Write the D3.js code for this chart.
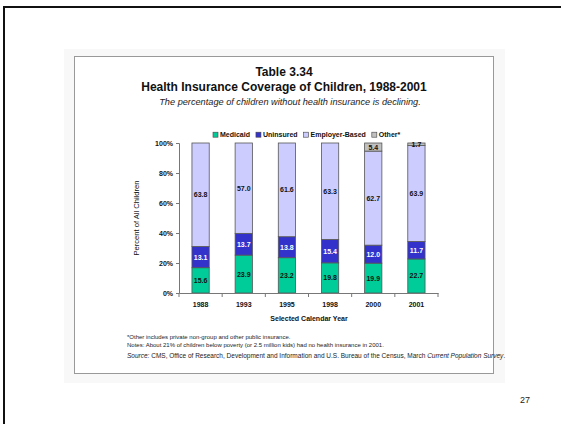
<!DOCTYPE html>
<html>
<head>
<meta charset="utf-8">
<script src="https://cdn.jsdelivr.net/npm/d3@7"></script>
<style>
  html, body { margin: 0; padding: 0; background: #fff; }
  svg { display: block; font-family: "Liberation Sans", Arial, sans-serif; }
</style>
</head>
<body>
<svg id="slide" width="561" height="424"></svg>
<script>
// Coverage shares (percent of all children) by selected calendar year
const years = ["1988", "1993", "1995", "1998", "2000", "2001"];
const medicaid = [15.6, 23.9, 23.2, 19.8, 19.9, 22.7];
const uninsured = [13.1, 13.7, 13.8, 15.4, 12.0, 11.7];
const employerBased = [63.8, 57.0, 61.6, 63.3, 62.7, 63.9];
const other = [null, null, null, null, 5.4, 1.7];

const seriesNames = ["Medicaid", "Uninsured", "Employer-Based", "Other*"];
const seriesValues = [medicaid, uninsured, employerBased, other];
const seriesColors = ["#00cc99", "#3333cc", "#ccccff", "#c0c0c0"];
const labelColors = ["#111", "#fff", "#111", "#111"];
const yTickValues = [0, 0.2, 0.4, 0.6, 0.8, 1.0];

const rows = years.map((yr, i) => {
  const r = { year: yr };
  seriesNames.forEach((s, k) => { r[s] = seriesValues[k][i] == null ? 0 : seriesValues[k][i]; });
  return r;
});

const svg = d3.select("#slide");

// slide frame
svg.append("path")
  .attr("d", "M4,424 V7 H561")
  .attr("fill", "none").attr("stroke", "#111").attr("stroke-width", 2);

// panel with soft halo
svg.append("rect").attr("x", 64).attr("y", 49).attr("width", 441).attr("height", 334)
  .attr("fill", "#f8f8f8");
svg.append("rect").attr("x", 74.5).attr("y", 56.5).attr("width", 419).attr("height", 317)
  .attr("fill", "#fff").attr("stroke", "#999").attr("stroke-width", 1);

// titles
const cx = 284;
svg.append("text").attr("x", cx).attr("y", 76).attr("text-anchor", "middle")
  .attr("font-size", 12).attr("font-weight", "bold").attr("fill", "#111").text("Table 3.34");
svg.append("text").attr("x", cx).attr("y", 91).attr("text-anchor", "middle")
  .attr("font-size", 12).attr("font-weight", "bold").attr("fill", "#111")
  .text("Health Insurance Coverage of Children, 1988-2001");
svg.append("text").attr("x", 290).attr("y", 104.5).attr("text-anchor", "middle")
  .attr("font-size", 9.2).attr("font-style", "italic").attr("fill", "#222")
  .text("The percentage of children without health insurance is declining.");

// scales
const x = d3.scaleBand().domain(years).range([179, 438]).paddingInner(0.6).paddingOuter(0.3);
const y = d3.scaleLinear().domain([0, 1]).range([293, 143]);

const stack = d3.stack().keys(seriesNames).offset(d3.stackOffsetExpand);
const stacked = stack(rows);

// bars
const g = svg.append("g");
stacked.forEach((layer, k) => {
  const lg = g.append("g");
  const present = layer.filter(d => d.data[seriesNames[k]] > 0);
  lg.selectAll("rect").data(present).join("rect")
    .attr("x", d => x(d.data.year))
    .attr("width", x.bandwidth())
    .attr("y", d => y(d[1]))
    .attr("height", d => y(d[0]) - y(d[1]))
    .attr("fill", seriesColors[k])
    .attr("stroke", "#555").attr("stroke-width", 0.8);
  lg.selectAll("text").data(present).join("text")
    .attr("x", d => x(d.data.year) + x.bandwidth() / 2)
    .attr("y", d => (y(d[0]) + y(d[1])) / 2 + 2.5)
    .attr("text-anchor", "middle")
    .attr("font-size", 7).attr("font-weight", "bold")
    .attr("fill", labelColors[k])
    .text(d => d3.format(".1f")(d.data[seriesNames[k]]));
});

// y axis
const yAxis = svg.append("g").attr("transform", "translate(179,0)")
  .call(d3.axisLeft(y).tickValues(yTickValues).tickFormat(d3.format(".0%")).tickSize(3).tickPadding(3));
yAxis.selectAll("path, line").attr("stroke", "#777");
yAxis.selectAll("text").attr("font-size", 7).attr("font-weight", "bold").attr("fill", "#111")
  .attr("font-family", "Liberation Sans, Arial, sans-serif");

// x axis
const xAxis = svg.append("g").attr("transform", "translate(0,293)")
  .call(d3.axisBottom(x).tickSize(0).tickPadding(9));
xAxis.select("path").attr("stroke", "#777");
xAxis.selectAll("text").attr("font-size", 7).attr("font-weight", "bold").attr("fill", "#111")
  .attr("font-family", "Liberation Sans, Arial, sans-serif");
// category separators
const bounds = years.map(yr => x(yr) - x.step() * x.paddingInner() / 2).concat([x.range()[1]]);
bounds[0] = x.range()[0];
xAxis.selectAll("line.sep").data(bounds).join("line").attr("class", "sep")
  .attr("x1", d => d).attr("x2", d => d).attr("y1", 0).attr("y2", 4).attr("stroke", "#777");

// axis titles
svg.append("text").attr("x", 309).attr("y", 321).attr("text-anchor", "middle")
  .attr("font-size", 7).attr("font-weight", "bold").attr("fill", "#111").text("Selected Calendar Year");
svg.append("text").attr("transform", "translate(139,218) rotate(-90)").attr("text-anchor", "middle")
  .attr("font-size", 7.6).attr("fill", "#111").text("Percent of All Children");

// legend, laid out left to right from the measured label widths
const lg = svg.append("g");
let lx = 213;
seriesNames.forEach((s, k) => {
  lg.append("rect").attr("x", lx).attr("y", 132.2).attr("width", 5).attr("height", 5)
    .attr("fill", seriesColors[k]).attr("stroke", "#444").attr("stroke-width", 0.6);
  const t = lg.append("text").attr("x", lx + 7).attr("y", 137.2)
    .attr("font-size", 7).attr("font-weight", "bold").attr("fill", "#111").text(s);
  lx += 7 + t.node().getComputedTextLength() + 6;
});

// notes
const notes = svg.append("g").attr("fill", "#222");
notes.append("text").attr("x", 127).attr("y", 338.5).attr("font-size", 6)
  .text("*Other includes private non-group and other public insurance.");
notes.append("text").attr("x", 127).attr("y", 346.5).attr("font-size", 6)
  .text("Notes: About 21% of children below poverty (or 2.5 million kids) had no health insurance in 2001.");
const src = notes.append("text").attr("x", 127).attr("y", 358).attr("font-size", 6.5);
src.append("tspan").attr("font-style", "italic").text("Source:");
src.append("tspan").text("  CMS, Office of Research, Development and Information and U.S. Bureau of the Census, March ");
src.append("tspan").attr("font-style", "italic").text("Current Population Survey");
src.append("tspan").text(".");

// page number
svg.append("text").attr("x", 525).attr("y", 403).attr("text-anchor", "middle")
  .attr("font-size", 9).attr("fill", "#222").text("27");
</script>
</body>
</html>
